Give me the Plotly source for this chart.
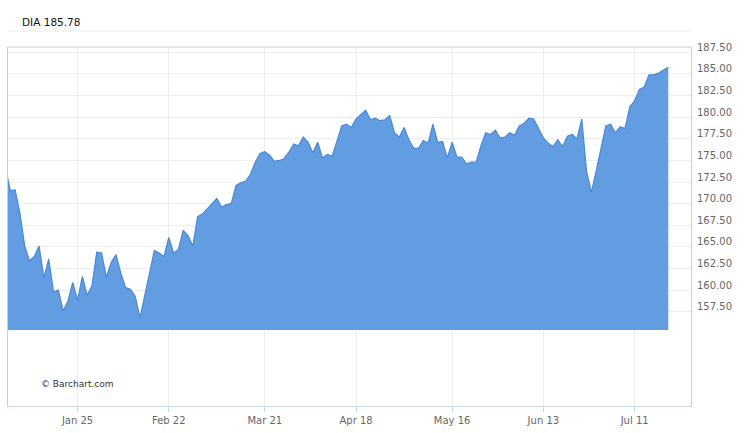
import plotly.graph_objects as go

dates = [
    "2015-12-31",
    "2016-01-04","2016-01-05","2016-01-06","2016-01-07","2016-01-08","2016-01-11","2016-01-12","2016-01-13","2016-01-14","2016-01-15",
    "2016-01-19","2016-01-20","2016-01-21","2016-01-22","2016-01-25","2016-01-26","2016-01-27","2016-01-28","2016-01-29",
    "2016-02-01","2016-02-02","2016-02-03","2016-02-04","2016-02-05","2016-02-08","2016-02-09","2016-02-10","2016-02-11","2016-02-12",
    "2016-02-16","2016-02-17","2016-02-18","2016-02-19","2016-02-22","2016-02-23","2016-02-24","2016-02-25","2016-02-26","2016-02-29",
    "2016-03-01","2016-03-02","2016-03-03","2016-03-04","2016-03-07","2016-03-08","2016-03-09","2016-03-10","2016-03-11",
    "2016-03-14","2016-03-15","2016-03-16","2016-03-17","2016-03-18","2016-03-21","2016-03-22","2016-03-23","2016-03-24",
    "2016-03-28","2016-03-29","2016-03-30","2016-03-31","2016-04-01","2016-04-04","2016-04-05","2016-04-06","2016-04-07","2016-04-08",
    "2016-04-11","2016-04-12","2016-04-13","2016-04-14","2016-04-15","2016-04-18","2016-04-19","2016-04-20","2016-04-21","2016-04-22",
    "2016-04-25","2016-04-26","2016-04-27","2016-04-28","2016-04-29","2016-05-02","2016-05-03","2016-05-04","2016-05-05","2016-05-06",
    "2016-05-09","2016-05-10","2016-05-11","2016-05-12","2016-05-13","2016-05-16","2016-05-17","2016-05-18","2016-05-19","2016-05-20",
    "2016-05-23","2016-05-24","2016-05-25","2016-05-26","2016-05-27","2016-05-31","2016-06-01","2016-06-02","2016-06-03",
    "2016-06-06","2016-06-07","2016-06-08","2016-06-09","2016-06-10","2016-06-13","2016-06-14","2016-06-15","2016-06-16","2016-06-17",
    "2016-06-20","2016-06-21","2016-06-22","2016-06-23","2016-06-24","2016-06-27","2016-06-28","2016-06-29","2016-06-30","2016-07-01",
    "2016-07-05","2016-07-06","2016-07-07","2016-07-08","2016-07-11","2016-07-12","2016-07-13","2016-07-14","2016-07-15",
    "2016-07-18","2016-07-19","2016-07-20",
]

prices = [
    174.1,
    171.5, 171.6, 168.9, 165.1, 163.4, 163.9, 165.1, 161.4, 163.6, 159.8,
    160.0, 157.6, 158.7, 160.9, 158.8, 161.6, 159.4, 160.5, 164.4,
    164.3, 161.5, 163.2, 164.1, 162.0, 160.3, 160.1, 159.3, 156.8, 159.5,
    161.8, 164.6, 164.3, 163.9, 166.1, 164.3, 164.7, 166.9, 166.3, 165.1,
    168.5, 168.8, 169.4, 170.0, 170.6, 169.6, 169.9, 170.0, 172.1,
    172.4, 172.6, 173.4, 174.8, 175.8, 176.0, 175.6, 174.9, 175.0,
    175.2, 175.95, 176.9, 176.7, 177.7, 177.1, 175.9, 177.1, 175.3, 175.7,
    175.5, 177.2, 179.0, 179.2, 178.8, 179.8, 180.3, 180.8, 179.7, 179.9,
    179.6, 179.7, 180.2, 178.2, 177.7, 178.8, 177.4, 176.4, 176.4, 177.3,
    177.0, 179.2, 177.1, 177.2, 175.3, 177.1, 175.4, 175.4, 174.6, 174.8,
    174.8, 176.7, 178.2, 178.0, 178.5, 177.6, 177.7, 178.2, 177.9,
    179.0, 179.3, 179.9, 179.8, 178.7, 177.6, 177.0, 176.6, 177.4, 176.6,
    177.8, 178.0, 177.5, 179.8, 173.7, 171.3, 173.8, 176.6, 179.0, 179.2,
    178.2, 178.9, 178.7, 181.2, 181.9, 183.2, 183.5, 184.9, 184.9,
    185.1, 185.4, 185.78,
]

fill_base = 155.4
y_ticks = [157.5, 160.0, 162.5, 165.0, 167.5, 170.0, 172.5, 175.0, 177.5, 180.0, 182.5, 185.0, 187.5]
x_tick_dates = ["2016-01-25", "2016-02-22", "2016-03-21", "2016-04-18", "2016-05-16", "2016-06-13", "2016-07-11"]
x_tick_labels = ["Jan 25", "Feb 22", "Mar 21", "Apr 18", "May 16", "Jun 13", "Jul 11"]
title_text = "DIA 185.78"
credit_text = "© Barchart.com"

FONT = "DejaVu Sans"

fig = go.Figure()
fig.add_trace(go.Scatter(
    x=dates, y=[fill_base] * len(dates), mode="lines",
    line=dict(width=0), hoverinfo="skip", showlegend=False,
))
fig.add_trace(go.Scatter(
    x=dates, y=prices, mode="lines", fill="tonexty",
    fillcolor="#629ce1", line=dict(color="#4a89da", width=1.2),
    showlegend=False,
))

fig.update_layout(
    width=750, height=433,
    margin=dict(l=7, r=59, t=47, b=24),
    paper_bgcolor="white", plot_bgcolor="white",
    showlegend=False,
    font=dict(family=FONT, size=10, color="#666666"),
    xaxis=dict(
        type="category",
        range=[0.52, 142.74],
        tickvals=x_tick_dates, ticktext=x_tick_labels,
        showgrid=True, gridcolor="#eeeeee", gridwidth=1,
        showline=True, linecolor="#c6d7ea", linewidth=1,
        ticks="outside", ticklen=5, tickcolor="#c6d7ea",
        tickfont=dict(family=FONT, size=10, color="#666666"),
        zeroline=False, fixedrange=True,
    ),
    yaxis=dict(
        side="right",
        range=[146.6, 188.12],
        tickvals=y_ticks, tickformat=".2f",
        showgrid=True, gridcolor="#eeeeee", gridwidth=1,
        showline=True, linecolor="#cccccc", linewidth=1, mirror=True,
        ticks="", ticklabelstandoff=3, ticklabelshift=-5,
        tickfont=dict(family=FONT, size=10, color="#666666"),
        zeroline=False, fixedrange=True,
    ),
    shapes=[
        dict(type="line", xref="paper", yref="paper", x0=0, x1=1, y0=1, y1=1,
             line=dict(color="#cccccc", width=1)),
        dict(type="line", xref="paper", yref="paper", x0=0, x1=1,
             y0=1 + 16 / 362.5, y1=1 + 16 / 362.5,
             line=dict(color="#eeeeee", width=1)),
    ],
    annotations=[
        dict(text=title_text, xref="paper", yref="paper", x=12 / 684.5, y=1 + 25 / 362.5,
             xanchor="left", yanchor="middle", showarrow=False,
             font=dict(family=FONT, size=10.5, color="#111111")),
        dict(text=credit_text, xref="paper", yref="paper", x=31 / 684.5, y=(409.5 - 387) / 362.5,
             xanchor="left", yanchor="middle", showarrow=False,
             font=dict(family=FONT, size=9, color="#333333")),
    ],
)

fig.write_html("out.html", config={"displayModeBar": False},
               post_script="document.body.style.margin='0px';")
